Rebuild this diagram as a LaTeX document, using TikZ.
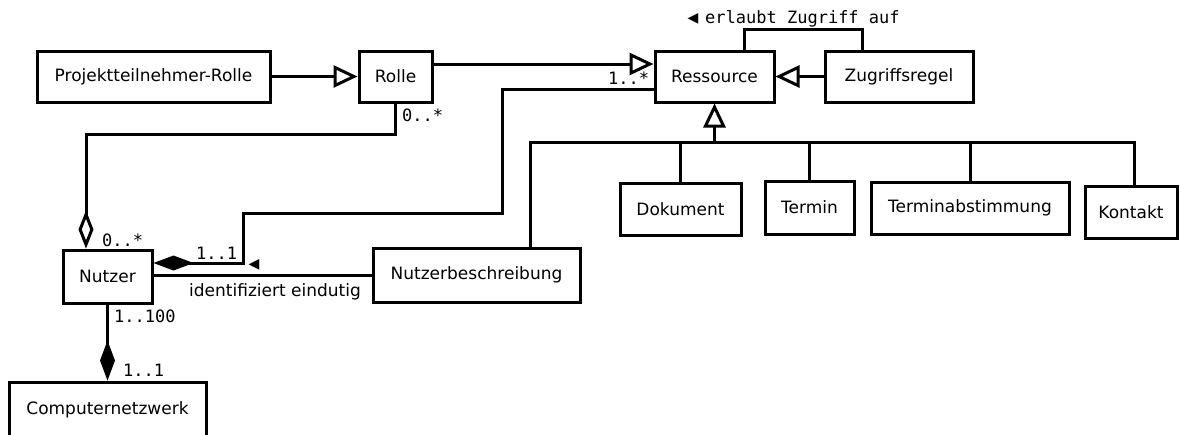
\documentclass[tikz,border=0pt]{standalone}
\usepackage{fontspec}
\setmainfont{DejaVu Sans}
\setmonofont{DejaVu Sans Mono}
\newfontfamily\symf{DejaVu Sans}
\usetikzlibrary{arrows.meta}
\begin{document}
\begin{tikzpicture}[x=1pt,y=-1pt,
  cls/.style={draw, line width=3pt, inner sep=0pt, font=\fontsize{17}{20}\selectfont},
  ln/.style={line width=3pt},
  gen/.style={ln, -{Triangle[open,length=24pt,width=22pt]}},
  comp/.style={ln, -{Diamond[length=40pt,width=15pt]}},
  agg/.style={ln, -{Diamond[open,length=38pt,width=15pt]}},
  mult/.style={inner sep=0pt, anchor=base west, font=\ttfamily\fontsize{17}{20}\selectfont},
  tri/.style={inner sep=0pt, font=\symf\fontsize{14}{16}\selectfont}
]
\useasboundingbox (0,0) rectangle (1180,434);
% classes
\node[cls, minimum width=233pt, minimum height=51pt] (pr) at (153.5,76.5) {Projektteilnehmer-Rolle};
\node[cls, minimum width=73pt, minimum height=51pt] (rolle) at (395.5,76.5) {Rolle};
\node[cls, minimum width=119pt, minimum height=51pt] (res) at (714.5,76.5) {Ressource};
\node[cls, minimum width=148pt, minimum height=51pt] (zug) at (899,76.5) {Zugriffsregel};
\node[cls, minimum width=121pt, minimum height=52pt] (dok) at (680.5,209) {Dokument};
\node[cls, minimum width=89pt, minimum height=53pt] (ter) at (809.5,207.5) {Termin};
\node[cls, minimum width=198pt, minimum height=52pt] (tab) at (970,208) {Terminabstimmung};
\node[cls, minimum width=92pt, minimum height=52pt] (kon) at (1131,212) {Kontakt};
\node[cls, minimum width=89pt, minimum height=53pt] (nut) at (107.5,276.5) {Nutzer};
\node[cls, minimum width=207pt, minimum height=54pt] (nb) at (476.5,275) {Nutzerbeschreibung};
\node[cls, minimum width=197pt, minimum height=56pt] (cn) at (107.5,410) {Computernetzwerk};
% generalizations
\draw[gen] (pr.east) -- (rolle.west);
\draw[gen] ([yshift=12.5pt]rolle.east) -- ([yshift=12.5pt]res.west);
\draw[gen] (zug.west) -- (res.east);
\coordinate (hub) at (714.5,142);
\draw[gen] (hub) -- (res.south);
\draw[ln] ([xshift=53.5pt]nb.north) -- (530,142) -- (1134,142) -- ([xshift=3pt]kon.north);
\draw[ln] (680.5,142) -- (dok.north);
\draw[ln] (809.5,142) -- (ter.north);
\draw[ln] (970,142) -- (tab.north);
% associations
\draw[ln] ([xshift=29.5pt]res.north) -- (744,29) -- (862,29) -- ([xshift=-37pt]zug.north);
\draw[comp] ([yshift=-12.5pt]res.west) -- (502,89) -- (502,213) -- (243,213) -- (243,263) -- ([yshift=13.5pt]nut.east);
\draw[ln] (nb.west) -- (nb.west -| nut.east);
\draw[agg] (rolle.south) -- (395.5,134) -- (86,134) -- ([xshift=-21.5pt]nut.north);
\draw[comp] (nut.south) -- (cn.north);
% labels
\node[tri] (t1) at (693,19) {◀};
\node[mult] (l1) at (705,23) {erlaubt Zugriff auf};
\node[mult] (m1) at (402,121) {0..*};
\node[mult] (m2) at (608,84) {1..*};
\node[mult] (m3) at (102,246) {0..*};
\node[mult] (m4) at (196,259) {1..1};
\node[mult] (m5) at (114,322) {1..100};
\node[mult] (m6) at (123,376) {1..1};
\node[tri] (t2) at (254,265) {◀};
\node[inner sep=0pt, anchor=base, font=\fontsize{17}{20}\selectfont] (lid) at (275,296) {identifiziert eindutig};
\end{tikzpicture}
\end{document}
